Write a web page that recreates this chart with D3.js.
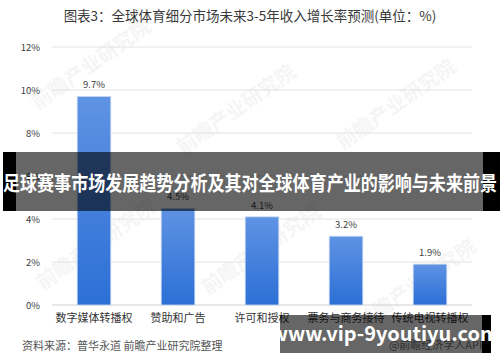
<!DOCTYPE html>
<html>
<head>
<meta charset="utf-8">
<script src="https://cdnjs.cloudflare.com/ajax/libs/d3/7.8.5/d3.min.js"></script>
<style>
  body { margin: 0; background: #fff; }
  svg text { font-family: "Noto Sans CJK SC", "Noto Sans", sans-serif; }
</style>
</head>
<body>
<div id="chart"></div>
<script>
// data
var categories = ["数字媒体转播权", "赞助和广告", "许可和授权", "票务与商务接待", "传统电视转播权"];
var growth = [9.7, 4.5, 4.1, 3.2, 1.9];
var yTicks = [0, 2, 4, 6, 8, 10, 12];

var width = 500, height = 362;
var margin = { top: 47, left: 52, right: 28, bottom: 57 };
var innerW = width - margin.left - margin.right;
var innerH = height - margin.top - margin.bottom;

var svg = d3.select("#chart").append("svg")
    .attr("width", width)
    .attr("height", height);

var defs = svg.append("defs");
var grad = defs.append("linearGradient")
    .attr("id", "barGrad")
    .attr("x1", 0).attr("y1", 0).attr("x2", 0).attr("y2", 1);
grad.append("stop").attr("offset", "0%").attr("stop-color", "#5f93e3");
grad.append("stop").attr("offset", "100%").attr("stop-color", "#2c6fd6");

////////// title //////////
svg.append("text")
    .attr("x", width / 2)
    .attr("y", 21)
    .attr("text-anchor", "middle")
    .attr("font-size", 13.5)
    .attr("fill", "#3a3a3a")
    .text("图表3：全球体育细分市场未来3-5年收入增长率预测(单位：%)");

////////// faint watermarks //////////
var marks = [[95, 70], [240, 115], [400, 110], [100, 250], [265, 255], [420, 290]];
marks.forEach(function (m) {
  svg.append("text")
      .attr("transform", "translate(" + m[0] + "," + m[1] + ") rotate(-35)")
      .attr("text-anchor", "middle")
      .attr("font-size", 20)
      .attr("font-weight", "bold")
      .attr("fill", "#000")
      .attr("opacity", 0.035)
      .text("前瞻产业研究院");
});

var g = svg.append("g")
    .attr("transform", "translate(" + margin.left + "," + margin.top + ")");

var x = d3.scaleBand()
    .domain(categories)
    .range([0, innerW])
    .paddingInner(0.6)
    .paddingOuter(0.3);

var y = d3.scaleLinear()
    .domain([0, 12])
    .range([innerH, 0]);

////////// grid + axes //////////
g.selectAll(".grid")
    .data(yTicks)
    .enter().append("line")
    .attr("class", "grid")
    .attr("x1", 0).attr("x2", innerW)
    .attr("y1", function (d) { return y(d); })
    .attr("y2", function (d) { return y(d); })
    .attr("stroke", function (d) { return d === 0 ? "#cfcfcf" : "#e2e2e2"; })
    .attr("stroke-width", 1);

var yAxis = d3.axisLeft(y)
    .tickValues(yTicks)
    .tickSize(0)
    .tickPadding(12)
    .tickFormat(function (d) { return d + "%"; });

g.append("g")
    .attr("class", "y_axis")
    .call(yAxis)
  .call(function (s) { s.select(".domain").remove(); })
  .selectAll("text")
    .attr("font-size", 9.5)
    .attr("fill", "#404040");

var xAxis = d3.axisBottom(x).tickSize(0).tickPadding(9);
g.append("g")
    .attr("class", "x_axis")
    .attr("transform", "translate(0," + innerH + ")")
    .call(xAxis)
  .call(function (s) { s.select(".domain").remove(); })
  .selectAll("text")
    .attr("font-size", 11)
    .attr("fill", "#333");

////////// bars //////////
var data = categories.map(function (c, i) { return { key: c, value: growth[i] }; });

g.selectAll(".bar")
    .data(data)
    .enter().append("rect")
    .attr("class", "bar")
    .attr("x", function (d) { return x(d.key); })
    .attr("y", function (d) { return y(d.value); })
    .attr("width", x.bandwidth())
    .attr("height", function (d) { return innerH - y(d.value); })
    .attr("fill", "url(#barGrad)")
    .attr("stroke", "#c9d9f2")
    .attr("stroke-width", 0.8);

g.selectAll(".valLabel")
    .data(data)
    .enter().append("text")
    .attr("class", "valLabel")
    .attr("x", function (d) { return x(d.key) + x.bandwidth() / 2; })
    .attr("y", function (d) { return y(d.value) - 8; })
    .attr("text-anchor", "middle")
    .attr("font-size", 9.5)
    .attr("fill", "#404040")
    .text(function (d) { return d.value.toFixed(1) + "%"; });

////////// source //////////
svg.append("text")
    .attr("x", 22)
    .attr("y", 350)
    .attr("font-size", 11)
    .attr("fill", "#555")
    .text("资料来源：普华永道 前瞻产业研究院整理");

svg.append("text")
    .attr("x", 486)
    .attr("y", 349)
    .attr("text-anchor", "end")
    .attr("font-size", 11)
    .attr("fill", "#777")
    .text("@前瞻经济学人APP");

////////// overlay banner //////////
svg.append("rect").attr("x", 3).attr("y", 152).attr("width", 13).attr("height", 59).attr("fill", "#000");
svg.append("rect").attr("x", 483).attr("y", 152).attr("width", 17).attr("height", 59).attr("fill", "#000");
svg.append("rect").attr("x", 16).attr("y", 152).attr("width", 467).attr("height", 59)
    .attr("fill", "#000").attr("opacity", 0.6);
svg.append("text")
    .attr("x", width / 2)
    .attr("y", 191)
    .attr("text-anchor", "middle")
    .attr("font-size", 20)
    .attr("font-weight", "bold")
    .attr("fill", "#fff")
    .attr("textLength", 494)
    .attr("lengthAdjust", "spacingAndGlyphs")
    .text("足球赛事市场发展趋势分析及其对全球体育产业的影响与未来前景");

////////// bottom url box //////////
svg.append("rect").attr("x", 482).attr("y", 315).attr("width", 9).attr("height", 38).attr("fill", "#000");
svg.append("rect").attr("x", 280).attr("y", 315).attr("width", 202).attr("height", 38)
    .attr("fill", "#000").attr("opacity", 0.6);
svg.append("text")
    .attr("x", 385)
    .attr("y", 341)
    .attr("text-anchor", "middle")
    .attr("font-size", 20)
    .attr("font-weight", "bold")
    .attr("fill", "#fff")
    .attr("font-family", "'DejaVu Sans', sans-serif")
    .text("www.vip-9youtiyu.com");
</script>
</body>
</html>
